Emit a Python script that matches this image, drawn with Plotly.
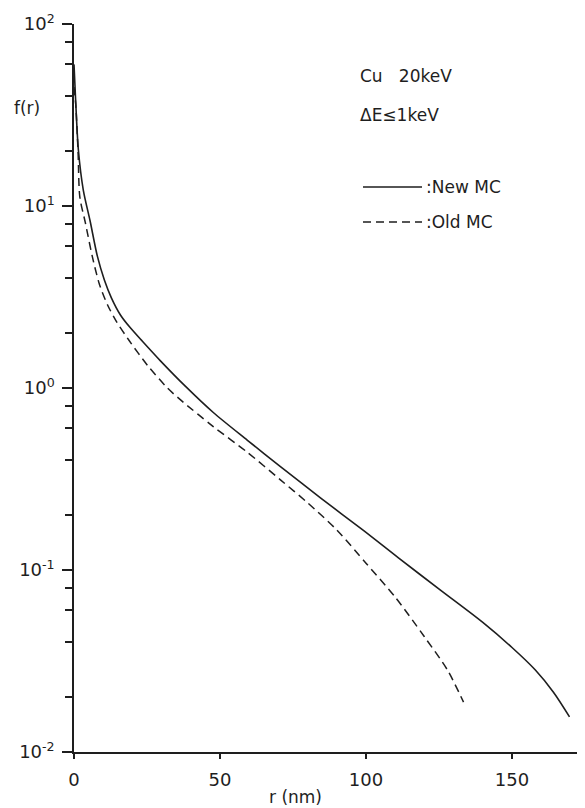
import plotly.graph_objects as go

# New MC (solid)
r_new = [0, 0.5, 1.5, 3.2, 5.5, 8.0, 10.4, 12.8, 15.9, 19.3, 23.5, 29.6, 38.2, 47.8, 59.4, 70.7, 84.4, 99.0, 111.0, 125.5, 140.0, 150.0, 158.0, 164.2, 169.7]
f_new = [60, 40, 20.3, 12.2, 8.3, 5.3, 3.92, 3.13, 2.52, 2.14, 1.80, 1.41, 1.02, 0.731, 0.516, 0.37, 0.249, 0.1656, 0.117, 0.0775, 0.0515, 0.0375, 0.0282, 0.0213, 0.0156]

# Old MC (dashed)
r_old = [0, 0.6, 1.4, 2.0, 3.9, 6.3, 8.7, 11.5, 14.6, 18.7, 25.2, 32.0, 36.5, 47.8, 59.4, 70.7, 80.0, 90.0, 100.0, 110.0, 120.0, 127.9, 133.4]
f_old = [45, 36, 19.6, 11.2, 8.07, 5.25, 3.72, 2.86, 2.31, 1.84, 1.33, 1.0, 0.86, 0.612, 0.443, 0.313, 0.234, 0.166, 0.109, 0.071, 0.043, 0.0282, 0.0188]

x_ticks = [0, 50, 100, 150]
y_ticks = [0.01, 0.1, 1, 10, 100]
y_ticktext = ["10<sup>-2</sup>", "10<sup>-1</sup>", "10<sup>0</sup>", "10<sup>1</sup>", "10<sup>2</sup>"]
y_minor = [m * 10.0 ** e for e in range(-2, 2) for m in (2, 4, 6, 8)]

INK = "#1e1e1e"
FONT = "DejaVu Sans"

fig = go.Figure()
fig.add_trace(go.Scatter(x=r_new, y=f_new, mode="lines",
                         line=dict(color=INK, width=1.6, shape="spline", smoothing=0.8),
                         showlegend=False, hoverinfo="skip"))
fig.add_trace(go.Scatter(x=r_old, y=f_old, mode="lines",
                         line=dict(color=INK, width=1.5, dash="8px,5px", shape="spline", smoothing=0.8),
                         showlegend=False, hoverinfo="skip"))

# page has an 8px body margin: figure is 577x800 so the plot lands where the reference has it
fig.update_layout(
    width=577, height=800,
    margin=dict(l=66, r=0, t=16, b=56),
    paper_bgcolor="white", plot_bgcolor="white",
    font=dict(family=FONT, size=17, color=INK),
    xaxis=dict(range=[0, 175], tickvals=x_ticks, ticks="outside", ticklen=5, tickwidth=1.5,
               tickcolor=INK, showline=True, linecolor=INK, linewidth=1.5, showgrid=False,
               zeroline=False, tickfont=dict(size=18, family=FONT, color=INK),
               ticklabelstandoff=6),
    yaxis=dict(type="log", range=[-2, 2], tickvals=y_ticks, ticktext=y_ticktext,
               ticks="outside", ticklen=10, tickwidth=1.5, tickcolor=INK,
               showline=True, linecolor=INK, linewidth=1.5, showgrid=False, zeroline=False,
               tickfont=dict(size=18, family=FONT, color=INK), ticklabelstandoff=4,
               minor=dict(tickvals=y_minor, ticks="outside", ticklen=7, tickwidth=1.5,
                          tickcolor=INK, showgrid=False)),
)

# page-pixel -> paper coordinates (plot area spans page x 74..585, y 24..752)
def px_x(p):
    return (p - 74) / (585 - 74)

def px_y(p):
    return (752 - p) / (752 - 24)

ann = [
    dict(text="f(r)", x=px_x(27), y=px_y(108), anchor="center"),
    dict(text="r (nm)", x=px_x(295), y=px_y(797), anchor="center"),
    dict(text="Cu&nbsp;&nbsp;&nbsp;20keV", x=px_x(358), y=px_y(76), anchor="left"),
    dict(text="ΔE≤1keV", x=px_x(358), y=px_y(115), anchor="left"),
    dict(text=":New MC", x=px_x(424), y=px_y(187), anchor="left"),
    dict(text=":Old MC", x=px_x(424), y=px_y(222), anchor="left"),
]
for a in ann:
    fig.add_annotation(text=a["text"], x=a["x"], y=a["y"], xref="paper", yref="paper",
                       showarrow=False, font=dict(size=17, family=FONT, color=INK),
                       xanchor=a["anchor"], yanchor="middle")

fig.add_shape(type="line", xref="paper", yref="paper", x0=px_x(363), x1=px_x(422),
              y0=px_y(187), y1=px_y(187), line=dict(color=INK, width=1.6))
fig.add_shape(type="line", xref="paper", yref="paper", x0=px_x(363), x1=px_x(422),
              y0=px_y(222), y1=px_y(222), line=dict(color=INK, width=1.5, dash="8px,5px"))

fig.write_html("out.html")
